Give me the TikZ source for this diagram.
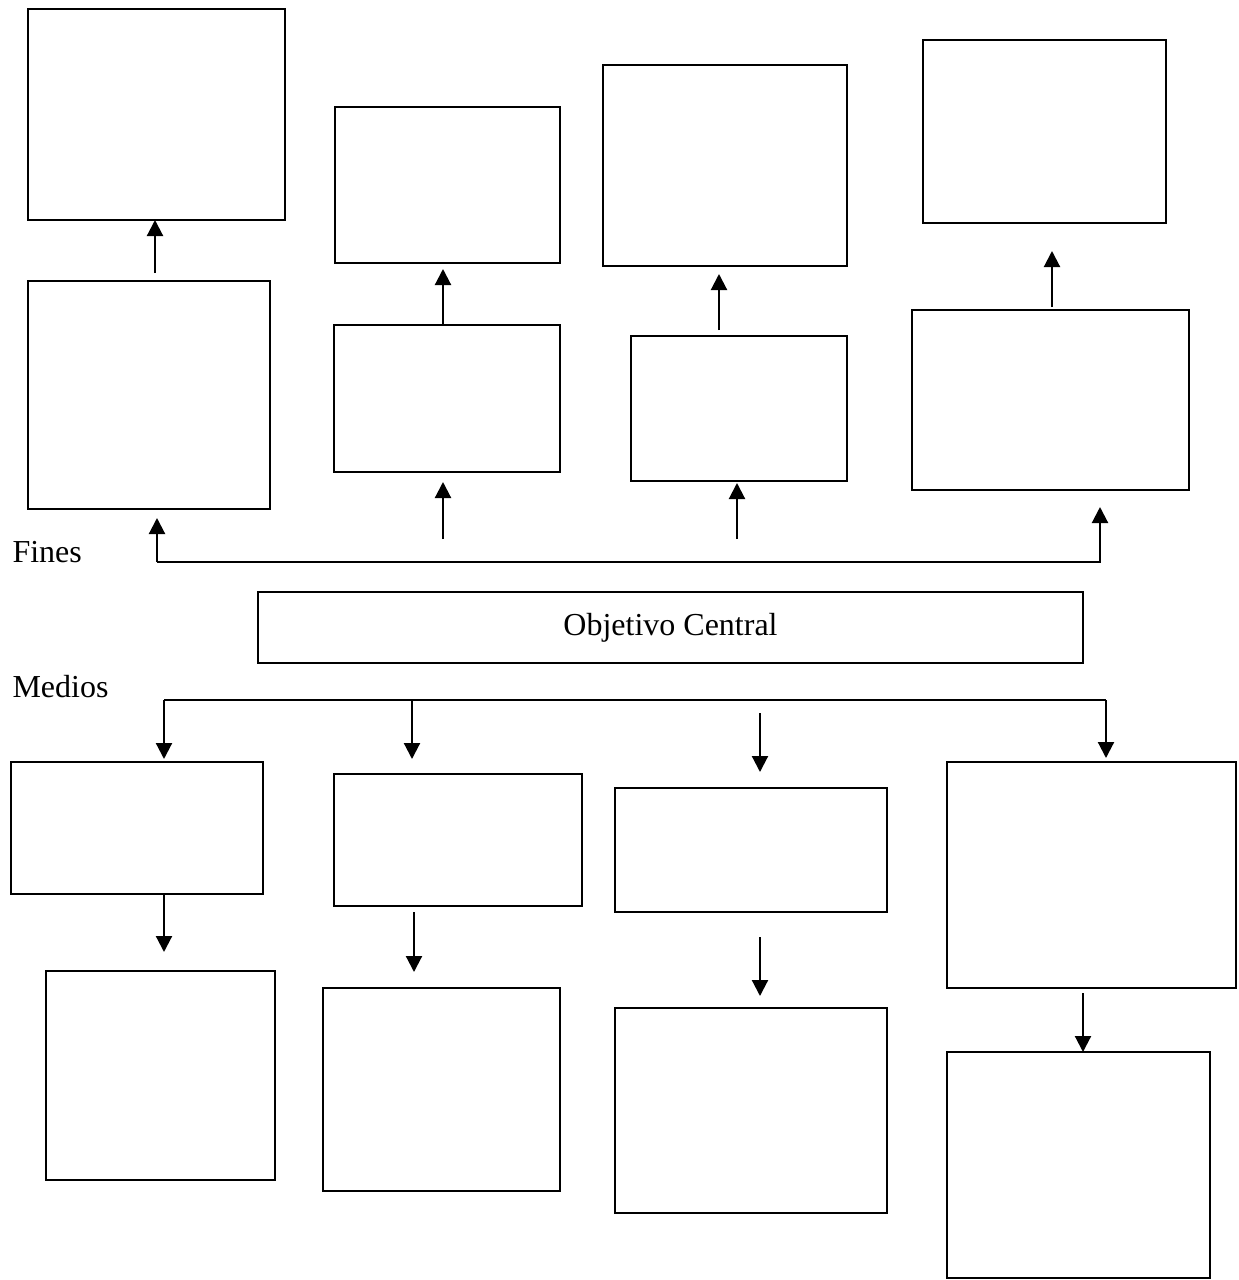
\documentclass[tikz,border=0pt]{standalone}
\usepackage{fontspec}
\setmainfont{Liberation Serif}
\usetikzlibrary{fit,calc,arrows.meta}
\begin{document}
\begin{tikzpicture}[x=0.375pt,y=-0.375pt,
  every node/.style={font=\fontsize{12pt}{14pt}\selectfont},
  box/.style={draw=black,line width=0.85pt,inner sep=0pt,outer sep=0pt,rectangle},
  arr/.style={draw=black,line width=0.8pt,-{Triangle[length=6pt,width=6pt]}},
  lbl/.style={anchor=base west,inner sep=0pt}]
\useasboundingbox[fill=white] (0,0) rectangle (1238,1280);

% ----- fines: upper row
\node[box,fit={(28,9) (285,220)}] (a1) {};
\node[box,fit={(335,107) (560,263)}] (b1) {};
\node[box,fit={(603,65) (847,266)}] (c1) {};
\node[box,fit={(923,40) (1166,223)}] (d1) {};
% ----- fines: second row
\node[box,fit={(28,281) (270,509)}] (a2) {};
\node[box,fit={(334,325) (560,472)}] (b2) {};
\node[box,fit={(631,336) (847,481)}] (c2) {};
\node[box,fit={(912,310) (1189,490)}] (d2) {};

% ----- central objective
\node[box,fit={(258,592) (1083,663)}] (obj) {};
\node (objtxt) at (obj.center) {Objetivo Central};

% ----- side labels
\node[lbl] (fines) at (12,562) {Fines};
\node[lbl] (medios) at (12,697) {Medios};

% ----- medios: first row
\node[box,fit={(11,762) (263,894)}] (e1) {};
\node[box,fit={(334,774) (582,906)}] (f1) {};
\node[box,fit={(615,788) (887,912)}] (g1) {};
\node[box,fit={(947,762) (1236,988)}] (h1) {};
% ----- medios: second row
\node[box,fit={(46,971) (275,1180)}] (e2) {};
\node[box,fit={(323,988) (560,1191)}] (f2) {};
\node[box,fit={(615,1008) (887,1213)}] (g2) {};
\node[box,fit={(947,1052) (1210,1278)}] (h2) {};

% x positions of the vertical connectors
\coordinate (xa) at (155,0);
\coordinate (xb) at (443,0);
\coordinate (xc) at (719,0);
\coordinate (xd) at (1052,0);
\coordinate (xcc) at (737,0);
\coordinate (xl) at (157,0);
\coordinate (xr) at (1100,0);
\coordinate (xe) at (164,0);
\coordinate (xf) at (412,0);
\coordinate (xg) at (760,0);
\coordinate (xh) at (1106,0);
\coordinate (xh2) at (1083,0);
\coordinate (xf2) at (414,0);

% ----- fines connectors
\draw[arr] ($(xa |- a2.north)+(0,-8)$) -- (xa |- a1.south);
\draw[arr] (xb |- b2.north) -- ($(xb |- b1.south)+(0,6)$);
\draw[arr] ($(xc |- c2.north)+(0,-6)$) -- ($(xc |- c1.south)+(0,8)$);
\draw[arr] ($(xd |- d2.north)+(0,-3)$) -- ($(xd |- d1.south)+(0,28)$);
\draw[arr] (xb |- 0,539) -- ($(xb |- b2.south)+(0,10)$);
\draw[arr] (xcc |- 0,539) -- ($(xcc |- c2.south)+(0,2)$);
\coordinate (busl) at (157,562);
\coordinate (busr) at (1100,562);
\draw[arr] (busl) -- ($(xl |- a2.south)+(0,9)$);
\draw[arr] (busl) -- (busr) -- ($(xr |- d2.south)+(0,17)$);

% ----- medios connectors
\coordinate (mbl) at (164,700);
\coordinate (mbf) at (412,700);
\coordinate (mbr) at (1106,700);
\draw[line width=0.8pt] (mbl) -- (mbr);
\draw[arr] (mbl) -- ($(xe |- e1.north)+(0,-3)$);
\draw[arr] (mbf) -- ($(xf |- f1.north)+(0,-15)$);
\draw[arr] (mbr) -- ($(xh |- h1.north)+(0,-4)$);
\draw[arr] (xg |- 0,713) -- ($(xg |- g1.north)+(0,-16)$);
\draw[arr] (xe |- e1.south) -- ($(xe |- e2.north)+(0,-19)$);
\draw[arr] ($(xf2 |- f1.south)+(0,6)$) -- ($(xf2 |- f2.north)+(0,-16)$);
\draw[arr] ($(xg |- g1.south)+(0,25)$) -- ($(xg |- g2.north)+(0,-12)$);
\draw[arr] ($(xh2 |- h1.south)+(0,5)$) -- (xh2 |- h2.north);
\end{tikzpicture}
\end{document}
